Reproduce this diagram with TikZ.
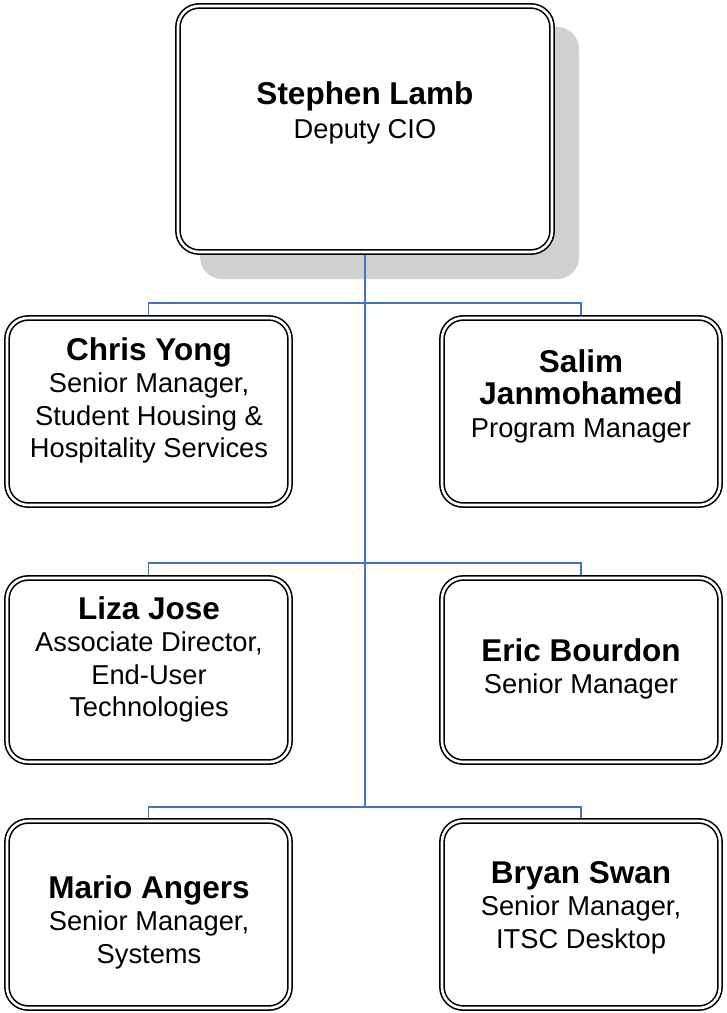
\documentclass[tikz,border=0pt]{standalone}
\usepackage{fontspec}
\setmainfont{Liberation Sans}
\definecolor{connblue}{RGB}{68,114,196}
\definecolor{shadowgray}{RGB}{208,208,208}
\newcommand\pname[1]{{\fontsize{31.5}{32.5}\selectfont\bfseries #1}}
\begin{document}
\begin{tikzpicture}[x=1pt,y=-1pt,
  box/.style={draw=black, double=white, line width=1.6pt, double distance=2.6pt,
    rounded corners=21pt, fill=white, inner sep=0pt, outer sep=2.9pt, shape=rectangle},
  conn/.style={draw=connblue, line width=1.8pt},
  txt/.style={align=center, anchor=north, inner sep=0pt, font=\fontsize{27.3}{32.5}\selectfont},
]
\useasboundingbox (0,0) rectangle (727,1013);

% coordinates of the bus
\coordinate (j1) at (365,303);
\coordinate (j2) at (365,563);
\coordinate (j3) at (365,807);

% shadow of the top box
\fill[shadowgray, rounded corners=22pt] (200,27) rectangle (579,279);

% boxes
\node[box, minimum width=374pt, minimum height=246pt] (boss) at (365,129) {};
\node[box, minimum width=283pt, minimum height=187pt] (chris) at (148.5,411.5) {};
\node[box, minimum width=278pt, minimum height=187pt] (salim) at (581,411.5) {};
\node[box, minimum width=283pt, minimum height=184pt] (liza) at (148.5,670) {};
\node[box, minimum width=278pt, minimum height=184pt] (eric) at (581,670) {};
\node[box, minimum width=283pt, minimum height=187pt] (mario) at (148.5,914.5) {};
\node[box, minimum width=278pt, minimum height=187pt] (bryan) at (581,914.5) {};

% connectors
\draw[conn] (boss.south) -- (j3);
\draw[conn] (chris.north) |- (j1) -| (salim.north);
\draw[conn] (liza.north) |- (j2) -| (eric.north);
\draw[conn] (mario.north) |- (j3) -| (bryan.north);

% texts
\node[txt] (bossT) at (365,81) {\pname{Stephen Lamb}\\[2pt]Deputy CIO};
\node[txt] (chrisT) at (149,337) {\pname{Chris Yong}\\Senior Manager,\\Student Housing \&\\Hospitality Services};
\node[txt] (salimT) at (581,349) {\pname{Salim}\\\pname{Janmohamed}\\Program Manager};
\node[txt] (lizaT) at (149,596) {\pname{Liza Jose}\\Associate Director,\\End-User\\Technologies};
\node[txt] (ericT) at (581,638) {\pname{Eric Bourdon}\\Senior Manager};
\node[txt] (marioT) at (149,875) {\pname{Mario Angers}\\Senior Manager,\\Systems};
\node[txt] (bryanT) at (581,861) {\pname{Bryan Swan}\\Senior Manager,\\ITSC Desktop};
\end{tikzpicture}
\end{document}
